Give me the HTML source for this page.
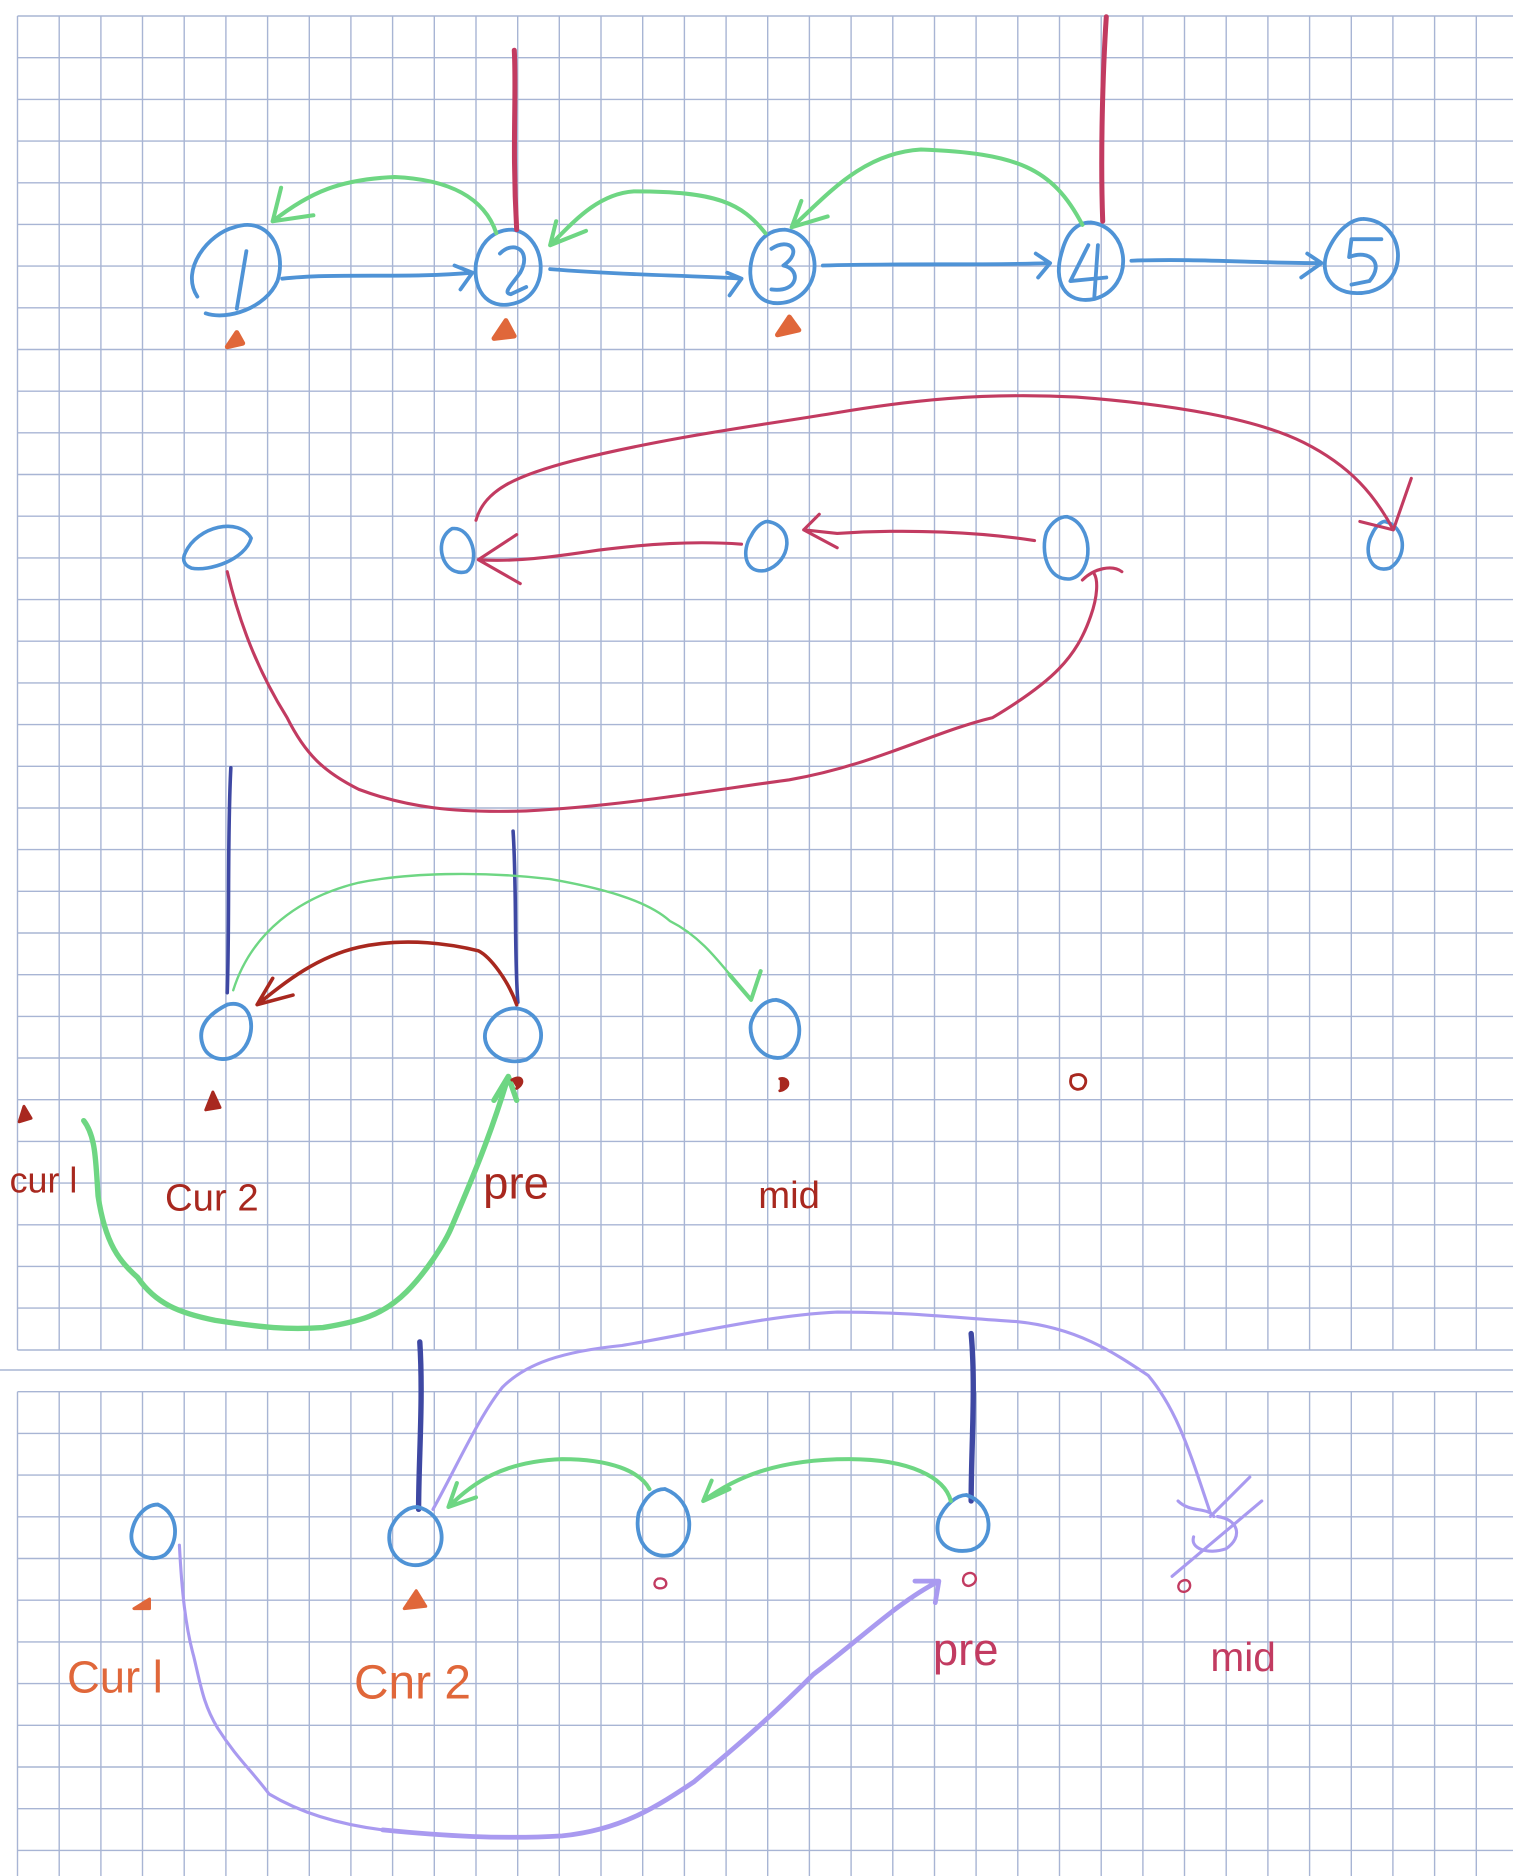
<!DOCTYPE html>
<html><head><meta charset="utf-8"><style>
html,body{margin:0;padding:0;background:#fff;}
svg{display:block}
text{font-family:"Liberation Sans",sans-serif;}
</style></head><body>
<svg width="1513" height="1876" viewBox="0 0 1513 1876" xmlns="http://www.w3.org/2000/svg">
<rect width="1513" height="1876" fill="#fff"/>
<g stroke="#a8b5d4" stroke-width="1.4">
<!-- top grid -->
<g id="tv">
<line x1="17.5" y1="16" x2="17.5" y2="1350"/><line x1="59.2" y1="16" x2="59.2" y2="1350"/><line x1="100.9" y1="16" x2="100.9" y2="1350"/><line x1="142.5" y1="16" x2="142.5" y2="1350"/><line x1="184.2" y1="16" x2="184.2" y2="1350"/><line x1="225.9" y1="16" x2="225.9" y2="1350"/><line x1="267.6" y1="16" x2="267.6" y2="1350"/><line x1="309.3" y1="16" x2="309.3" y2="1350"/><line x1="350.9" y1="16" x2="350.9" y2="1350"/><line x1="392.6" y1="16" x2="392.6" y2="1350"/><line x1="434.3" y1="16" x2="434.3" y2="1350"/><line x1="476" y1="16" x2="476" y2="1350"/><line x1="517.7" y1="16" x2="517.7" y2="1350"/><line x1="559.3" y1="16" x2="559.3" y2="1350"/><line x1="601" y1="16" x2="601" y2="1350"/><line x1="642.7" y1="16" x2="642.7" y2="1350"/><line x1="684.4" y1="16" x2="684.4" y2="1350"/><line x1="726.1" y1="16" x2="726.1" y2="1350"/><line x1="767.7" y1="16" x2="767.7" y2="1350"/><line x1="809.4" y1="16" x2="809.4" y2="1350"/><line x1="851.1" y1="16" x2="851.1" y2="1350"/><line x1="892.8" y1="16" x2="892.8" y2="1350"/><line x1="934.5" y1="16" x2="934.5" y2="1350"/><line x1="976.1" y1="16" x2="976.1" y2="1350"/><line x1="1017.8" y1="16" x2="1017.8" y2="1350"/><line x1="1059.5" y1="16" x2="1059.5" y2="1350"/><line x1="1101.2" y1="16" x2="1101.2" y2="1350"/><line x1="1142.9" y1="16" x2="1142.9" y2="1350"/><line x1="1184.5" y1="16" x2="1184.5" y2="1350"/><line x1="1226.2" y1="16" x2="1226.2" y2="1350"/><line x1="1267.9" y1="16" x2="1267.9" y2="1350"/><line x1="1309.6" y1="16" x2="1309.6" y2="1350"/><line x1="1351.3" y1="16" x2="1351.3" y2="1350"/><line x1="1392.9" y1="16" x2="1392.9" y2="1350"/><line x1="1434.6" y1="16" x2="1434.6" y2="1350"/><line x1="1476.3" y1="16" x2="1476.3" y2="1350"/>
</g>
<use href="#tv" transform="translate(0,1391.7) scale(1,0.363) translate(0,-16)"/>
</g>
<g stroke="#a8b5d4" stroke-width="1.4" id="hl">
<line x1="17.5" x2="1513" y1="16" y2="16"/><line x1="17.5" x2="1513" y1="57.7" y2="57.7"/><line x1="17.5" x2="1513" y1="99.4" y2="99.4"/><line x1="17.5" x2="1513" y1="141.1" y2="141.1"/><line x1="17.5" x2="1513" y1="182.8" y2="182.8"/><line x1="17.5" x2="1513" y1="224.4" y2="224.4"/><line x1="17.5" x2="1513" y1="266.1" y2="266.1"/><line x1="17.5" x2="1513" y1="307.8" y2="307.8"/><line x1="17.5" x2="1513" y1="349.5" y2="349.5"/><line x1="17.5" x2="1513" y1="391.2" y2="391.2"/><line x1="17.5" x2="1513" y1="432.8" y2="432.8"/><line x1="17.5" x2="1513" y1="474.5" y2="474.5"/><line x1="17.5" x2="1513" y1="516.2" y2="516.2"/><line x1="17.5" x2="1513" y1="557.9" y2="557.9"/><line x1="17.5" x2="1513" y1="599.6" y2="599.6"/><line x1="17.5" x2="1513" y1="641.2" y2="641.2"/><line x1="17.5" x2="1513" y1="682.9" y2="682.9"/><line x1="17.5" x2="1513" y1="724.6" y2="724.6"/><line x1="17.5" x2="1513" y1="766.3" y2="766.3"/><line x1="17.5" x2="1513" y1="808" y2="808"/><line x1="17.5" x2="1513" y1="849.6" y2="849.6"/><line x1="17.5" x2="1513" y1="891.3" y2="891.3"/><line x1="17.5" x2="1513" y1="933" y2="933"/><line x1="17.5" x2="1513" y1="974.7" y2="974.7"/><line x1="17.5" x2="1513" y1="1016.4" y2="1016.4"/><line x1="17.5" x2="1513" y1="1058" y2="1058"/><line x1="17.5" x2="1513" y1="1099.7" y2="1099.7"/><line x1="17.5" x2="1513" y1="1141.4" y2="1141.4"/><line x1="17.5" x2="1513" y1="1183.1" y2="1183.1"/><line x1="17.5" x2="1513" y1="1224.8" y2="1224.8"/><line x1="17.5" x2="1513" y1="1266.4" y2="1266.4"/><line x1="17.5" x2="1513" y1="1308.1" y2="1308.1"/><line x1="17.5" x2="1513" y1="1350" y2="1350"/>
<line x1="0" x2="1513" y1="1370" y2="1370"/>
<line x1="17.5" x2="1513" y1="1391.7" y2="1391.7"/><line x1="17.5" x2="1513" y1="1433.4" y2="1433.4"/><line x1="17.5" x2="1513" y1="1475.1" y2="1475.1"/><line x1="17.5" x2="1513" y1="1516.8" y2="1516.8"/><line x1="17.5" x2="1513" y1="1558.5" y2="1558.5"/><line x1="17.5" x2="1513" y1="1600.2" y2="1600.2"/><line x1="17.5" x2="1513" y1="1641.9" y2="1641.9"/><line x1="17.5" x2="1513" y1="1683.6" y2="1683.6"/><line x1="17.5" x2="1513" y1="1725.3" y2="1725.3"/><line x1="17.5" x2="1513" y1="1767" y2="1767"/><line x1="17.5" x2="1513" y1="1808.7" y2="1808.7"/><line x1="17.5" x2="1513" y1="1850.4" y2="1850.4"/>
</g>

<g transform="scale(1.196)" fill="none" stroke-linecap="round" stroke-linejoin="round">
<!-- Section 1 -->
<g stroke="#4f93d6" stroke-width="3.2">
<path d="M196,190 C225,180 240,210 232,235 C222,258 190,268 172,262 M165,248 C150,225 175,195 196,190"/>
<path d="M206,210 L198,258"/>
<path d="M428,192 C455,195 462,240 435,252 C410,262 395,245 398,220 C402,200 415,192 428,192"/>
<path d="M418,212 C430,200 445,210 435,228 C428,238 420,245 427,246 L440,240"/>
<path d="M656,192 C685,195 692,240 660,252 C632,260 622,235 630,212 C635,198 645,192 656,192"/>
<path d="M645,208 C660,198 672,210 655,222 C670,225 668,245 645,242"/>
<path d="M912,186 C945,190 950,240 915,250 C890,255 880,235 888,210 C892,195 900,186 912,186"/>
<path d="M910,205 L895,235 L925,232 M918,205 L915,248"/>
<path d="M1140,183 C1175,185 1180,235 1145,244 C1115,250 1102,230 1110,210 C1118,192 1130,183 1140,183"/>
<path d="M1155,200 L1130,200 L1128,215 C1145,208 1158,220 1145,235 L1130,238"/>
<path d="M236,233 C280,228 340,233 395,228 M380,222 L395,228 L385,242"/>
<path d="M460,225 C520,230 570,230 620,233 M608,228 L620,233 L610,247"/>
<path d="M688,222 C760,220 820,222 878,220 M866,212 L878,220 L868,232"/>
<path d="M946,218 C1000,216 1050,220 1105,220 M1093,212 L1105,220 L1088,232"/>
</g>
<g stroke="#c23b61" stroke-width="4.2">
<path d="M430,42 C432,80 428,120 432,192"/>
<path d="M925,14 C922,60 920,130 922,185"/>
</g>
<g stroke="#6ed683" stroke-width="3.4">
<path d="M415,195 C405,165 375,150 330,148 C285,150 260,160 228,185 M235,157 L228,185 L262,180"/>
<path d="M640,195 C620,170 600,160 530,160 C500,162 480,185 460,205 M465,185 L460,205 L490,193"/>
<path d="M905,188 C880,140 850,128 770,125 C720,128 690,165 662,190 M670,168 L662,190 L692,181"/>
</g>
<g stroke="#e0673a" stroke-width="4" fill="#e0673a">
<path d="M198,278 L190,290 L203,287 Z"/>
<path d="M423,268 L413,283 L430,281 Z"/>
<path d="M660,265 L650,280 L668,276 Z"/>
</g>

<!-- Section 2 -->
<g stroke="#4f93d6" stroke-width="3">
<path d="M155,462 C165,440 200,432 210,450 C205,468 175,478 160,475 C152,472 153,466 155,462"/>
<path d="M378,442 C395,440 402,470 390,478 C375,482 366,465 370,452 C372,446 376,443 378,442"/>
<path d="M642,436 C665,440 662,470 640,477 C622,480 620,460 628,448 C632,440 638,436 642,436"/>
<path d="M892,432 C915,438 915,480 895,484 C875,486 870,460 875,445 C880,435 887,432 892,432"/>
<path d="M1158,436 C1175,440 1178,465 1162,475 C1145,480 1140,460 1147,447 C1150,440 1155,436 1158,436"/>
</g>
<g stroke="#c23b61" stroke-width="2.6">
<path d="M398,435 C405,410 430,398 480,385 C560,365 640,355 700,345 C760,335 820,328 900,332 C980,338 1050,350 1090,370 C1130,390 1150,415 1165,443 M1180,400 L1165,443 L1137,436"/>
<path d="M865,452 C820,445 760,442 700,446 L672,443 M685,430 L672,443 L700,458"/>
<path d="M620,455 C580,452 540,455 500,460 C460,466 430,470 400,468 M432,447 L400,468 L435,488"/>
<path d="M190,478 C200,520 215,560 240,600 C255,630 270,645 300,660 C340,675 380,680 440,678 C520,674 600,660 660,652 C730,640 780,612 830,600 C880,570 900,550 912,515 C918,498 918,485 915,480 M905,485 C915,475 930,472 938,478"/>
</g>

<!-- Section 3 -->
<g stroke="#4f93d6" stroke-width="3.2">
<path d="M190,840 C210,835 215,860 205,875 C195,890 175,888 170,875 C165,862 170,850 190,840"/>
<path d="M431,843 C455,845 460,875 440,886 C420,892 402,878 406,862 C410,850 420,843 431,843"/>
<path d="M649,836 C672,840 675,875 655,884 C638,888 625,870 628,855 C632,843 640,836 649,836"/>
</g>
<g stroke="#3e48a3" stroke-width="3">
<path d="M193,642 C190,700 192,770 190,830"/>
<path d="M429,695 C432,740 430,800 433,838"/>
</g>
<path stroke="#a8281f" stroke-width="3" d="M432,840 C425,820 410,800 400,795 C380,790 340,783 300,792 C265,800 240,820 215,840 M228,818 L215,840 L245,832"/>
<g stroke="#6ed683">
<path stroke-width="2" d="M195,828 C210,780 250,750 300,738 C340,730 400,728 460,735 C500,742 540,752 560,770 C590,785 605,810 628,836"/>
<path stroke-width="3.4" d="M610,815 L628,836 L636,812"/>
<path stroke-width="4.5" d="M70,937 C80,950 80,970 82,1000 C88,1040 100,1055 115,1068 C130,1090 150,1098 180,1104 C220,1110 240,1112 270,1110 C300,1105 320,1100 340,1080 C355,1065 372,1040 378,1025 C395,985 410,950 425,900 M413,920 L425,900 L432,920"/>
</g>
<g fill="#a8281f" stroke="#a8281f" stroke-width="2.4">
<path d="M20,925 L16,938 L26,935 Z"/>
<path d="M178,913 L172,928 L184,926 Z"/>
<path d="M428,903 C436,898 440,905 432,910"/>
<path d="M652,902 C660,900 662,910 652,912"/>
<path fill="none" d="M896,900 C905,895 912,903 905,910 C898,913 893,907 896,900"/>
</g>
<g fill="#a8281f" font-size="32" font-family="Liberation Sans, sans-serif" stroke="none">
<text x="8" y="997" font-size="30">cur l</text>
<text x="138" y="1012">Cur 2</text>
<text x="404" y="1002" font-size="38">pre</text>
<text x="634" y="1010">mid</text>
</g>

<!-- Section 4 -->
<g stroke="#3e48a3" stroke-width="4.5">
<path d="M351,1122 C354,1170 350,1220 350,1262"/>
<path d="M812,1115 C816,1160 812,1210 812,1255"/>
</g>
<g stroke="#4f93d6" stroke-width="3.2">
<path d="M132,1258 C150,1265 150,1290 138,1300 C125,1308 108,1298 110,1282 C112,1268 122,1258 132,1258"/>
<path d="M349,1260 C372,1265 376,1295 358,1306 C340,1315 322,1300 326,1280 C330,1268 340,1260 349,1260"/>
<path d="M556,1245 C582,1255 582,1290 562,1300 C540,1305 530,1285 534,1265 C540,1250 548,1245 556,1245"/>
<path d="M808,1250 C832,1258 832,1290 812,1296 C792,1300 780,1288 785,1270 C790,1258 800,1250 808,1250"/>
</g>
<g stroke="#6ed683" stroke-width="3.4">
<path d="M543,1245 C535,1230 510,1220 470,1220 C420,1222 395,1240 375,1260 M382,1240 L375,1260 L398,1252"/>
<path d="M795,1255 C790,1235 760,1220 710,1220 C650,1220 615,1235 588,1255 M595,1238 L588,1255 L610,1245"/>
</g>
<g stroke="#a99af0" stroke-width="2.6">
<path d="M362,1262 C380,1230 400,1185 420,1160 C440,1140 470,1130 520,1125 C580,1115 640,1100 700,1097 C760,1097 800,1102 850,1105 C900,1110 930,1130 960,1150 C985,1180 995,1215 1012,1265"/>
<path d="M985,1255 C995,1265 1010,1260 1015,1268 M1045,1235 L1012,1268"/>
<path d="M1018,1268 C1035,1270 1040,1285 1025,1295 C1010,1300 995,1295 998,1285 M1055,1255 L980,1318"/>
<path stroke-width="2.6" d="M150,1292 C152,1330 155,1360 162,1385 C168,1410 170,1425 182,1445 C198,1470 210,1480 225,1500 C250,1515 280,1525 320,1530"/>
<path stroke-width="4" d="M320,1530 C370,1535 420,1538 470,1535 C520,1530 550,1510 580,1490 C610,1465 640,1440 680,1400 C720,1370 750,1340 785,1322 M765,1322 L785,1322 L782,1340"/>
</g>
<g fill="#e0673a" stroke="#e0673a" stroke-width="2.5">
<path d="M125,1337 L112,1345 L125,1345 Z"/>
<path d="M348,1330 L338,1345 L356,1343 Z"/>
</g>
<g fill="none" stroke="#c23b61" stroke-width="2">
<path d="M550,1320 C558,1318 560,1328 552,1328 C546,1328 546,1322 550,1320"/>
<path d="M808,1316 C816,1312 820,1324 810,1326 C804,1326 804,1318 808,1316"/>
<path d="M988,1322 C996,1318 998,1330 990,1331 C984,1331 984,1324 988,1322"/>
</g>
<g font-family="Liberation Sans, sans-serif" stroke="none">
<text x="56" y="1415" font-size="38" fill="#e0673a">Cur l</text>
<text x="296" y="1420" font-size="40" fill="#e0673a">Cnr 2</text>
<text x="780" y="1392" font-size="38" fill="#c23b61">pre</text>
<text x="1012" y="1397" font-size="34" fill="#c23b61">mid</text>
</g>
</g>
</svg>
</body></html>
